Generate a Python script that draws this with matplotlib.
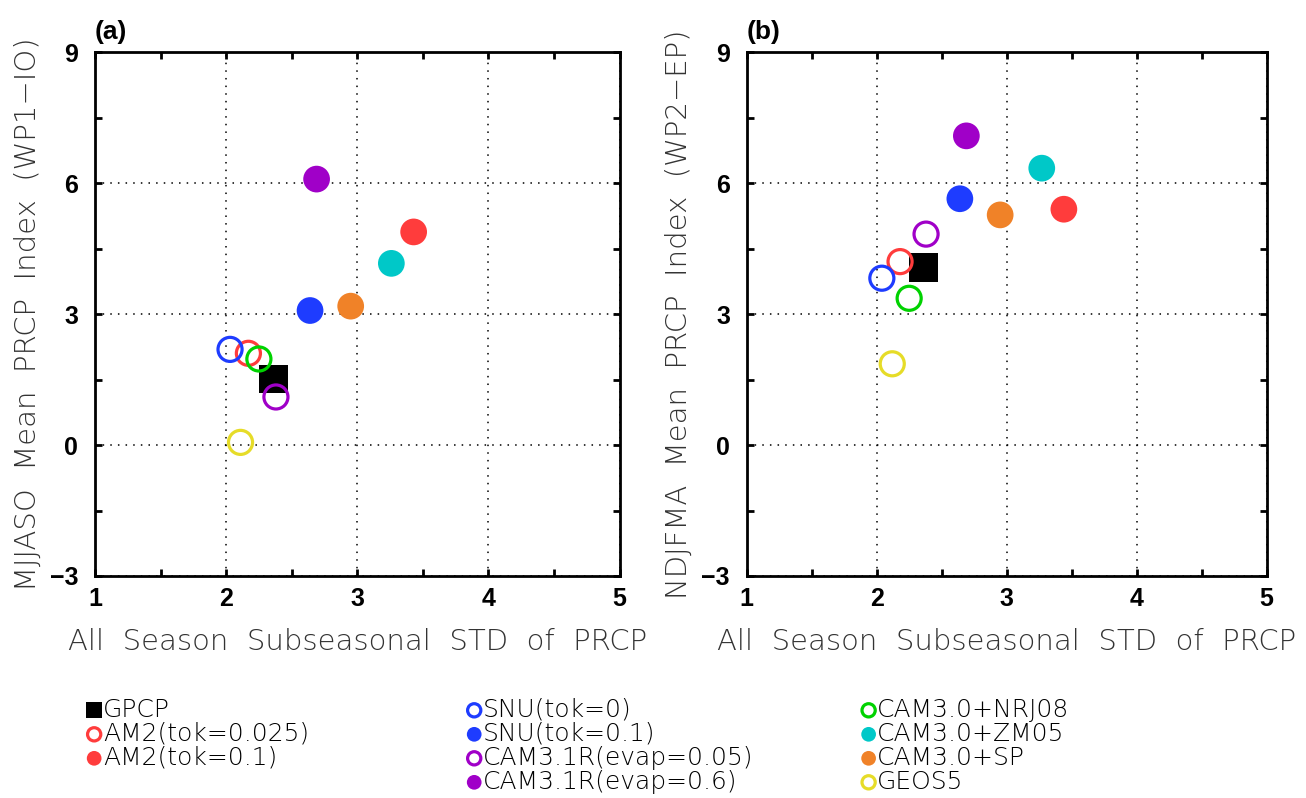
import numpy as np
import matplotlib
matplotlib.use('Agg')
import matplotlib.pyplot as plt
from matplotlib.ticker import MultipleLocator

# Modelos e observação
nomes = ['GPCP', 'AM2(tok=0.025)', 'AM2(tok=0.1)',
         'SNU(tok=0)', 'SNU(tok=0.1)', 'CAM3.1R(evap=0.05)', 'CAM3.1R(evap=0.6)',
         'CAM3.0+NRJ08', 'CAM3.0+ZM05', 'CAM3.0+SP', 'GEOS5']
cores = ['black', '#ff3c3c', '#ff3c3c',
         '#1e3cff', '#1e3cff', '#a000c8', '#a000c8',
         '#00d200', '#00c8c8', '#f08228', '#e6dc28']
marcas = ['square', 'open', 'filled',
          'open', 'filled', 'open', 'filled',
          'open', 'filled', 'filled', 'open']

# Desvio padrão subsazonal (eixo x)
std_a = [2.36, 2.17, 3.43, 2.03, 2.64, 2.38, 2.69, 2.25, 3.26, 2.95, 2.11]
std_b = [2.36, 2.18, 3.44, 2.04, 2.64, 2.38, 2.69, 2.25, 3.27, 2.95, 2.12]

# Índice de precipitação média (eixo y)
idx_a = [1.51, 2.10, 4.88, 2.19, 3.08, 1.10, 6.09, 1.97, 4.16, 3.18, 0.06]
idx_b = [4.06, 4.20, 5.40, 3.82, 5.64, 4.83, 7.08, 3.36, 6.34, 5.27, 1.86]

xlabel = 'All  Season  Subseasonal  STD  of  PRCP'
ylabels = ['MJJASO  Mean  PRCP  Index  (WP1\u2212IO)',
           'NDJFMA  Mean  PRCP  Index  (WP2\u2212EP)']
paineis = ['(a)', '(b)']

fig = plt.figure(figsize=(13.06, 7.98), dpi=100)
eixos = [fig.add_axes([0.0727, 0.2782, 0.4017, 0.6566]),
         fig.add_axes([0.5717, 0.2782, 0.3982, 0.6566])]

handles = []
for k, (ax, xs, ys) in enumerate(zip(eixos, [std_a, std_b], [idx_a, idx_b])):
    for i in range(len(nomes)):
        if marcas[i] == 'square':
            h = ax.scatter(xs[i], ys[i], marker='s', s=420, c=cores[i],
                           edgecolors='none', zorder=3)
        elif marcas[i] == 'open':
            h = ax.scatter(xs[i], ys[i], marker='o', s=300, facecolors='none',
                           edgecolors=cores[i], linewidths=2.3, zorder=4)
        else:
            h = ax.scatter(xs[i], ys[i], marker='o', s=370, c=cores[i],
                           edgecolors='none', zorder=3)
        if k == 0:
            handles.append(h)

    ax.set_xlim(1, 5)
    ax.set_ylim(-3, 9)
    ax.xaxis.set_major_locator(MultipleLocator(1))
    ax.xaxis.set_minor_locator(MultipleLocator(0.5))
    ax.yaxis.set_major_locator(MultipleLocator(3))
    ax.yaxis.set_minor_locator(MultipleLocator(1.5))
    ax.tick_params(which='both', direction='in', top=True, right=True,
                   width=2, length=5)
    ax.tick_params(which='major', labelsize=18)
    ax.tick_params(axis='y', pad=12)
    ax.tick_params(axis='x', pad=8)
    for lab in ax.get_xticklabels() + ax.get_yticklabels():
        lab.set_fontweight('bold')
        lab.set_family('Liberation Sans')
    for s in ax.spines.values():
        s.set_linewidth(2)
    ax.grid(True, which='major', linestyle=(0, (1, 4)), color='black', linewidth=1.1)
    ax.set_axisbelow(True)

    ax.set_xlabel(xlabel, fontsize=21, color='#333333', labelpad=12,
                  fontweight='light')
    ax.set_ylabel(ylabels[k], fontsize=21, color='#333333', labelpad=6,
                  fontweight='light')
    ax.text(0.0, 1.015, paineis[k], transform=ax.transAxes, fontsize=19,
            fontweight='bold', family='Liberation Sans', va='bottom', ha='left')

# Legenda em três colunas
colunas = [[0, 1, 2], [3, 4, 5, 6], [7, 8, 9, 10]]
pos_x = [0.052, 0.343, 0.645]
for c, x0 in zip(colunas, pos_x):
    leg = fig.legend([handles[i] for i in c], [nomes[i] for i in c],
                     loc='upper left', bbox_to_anchor=(x0, 0.138),
                     frameon=False, handletextpad=-0.3,
                     labelspacing=0.0, borderaxespad=0, markerscale=0.55,
                     handlelength=1.3, prop={'size': 18, 'weight': 'light'})

fig.savefig('out.png', dpi=100)
